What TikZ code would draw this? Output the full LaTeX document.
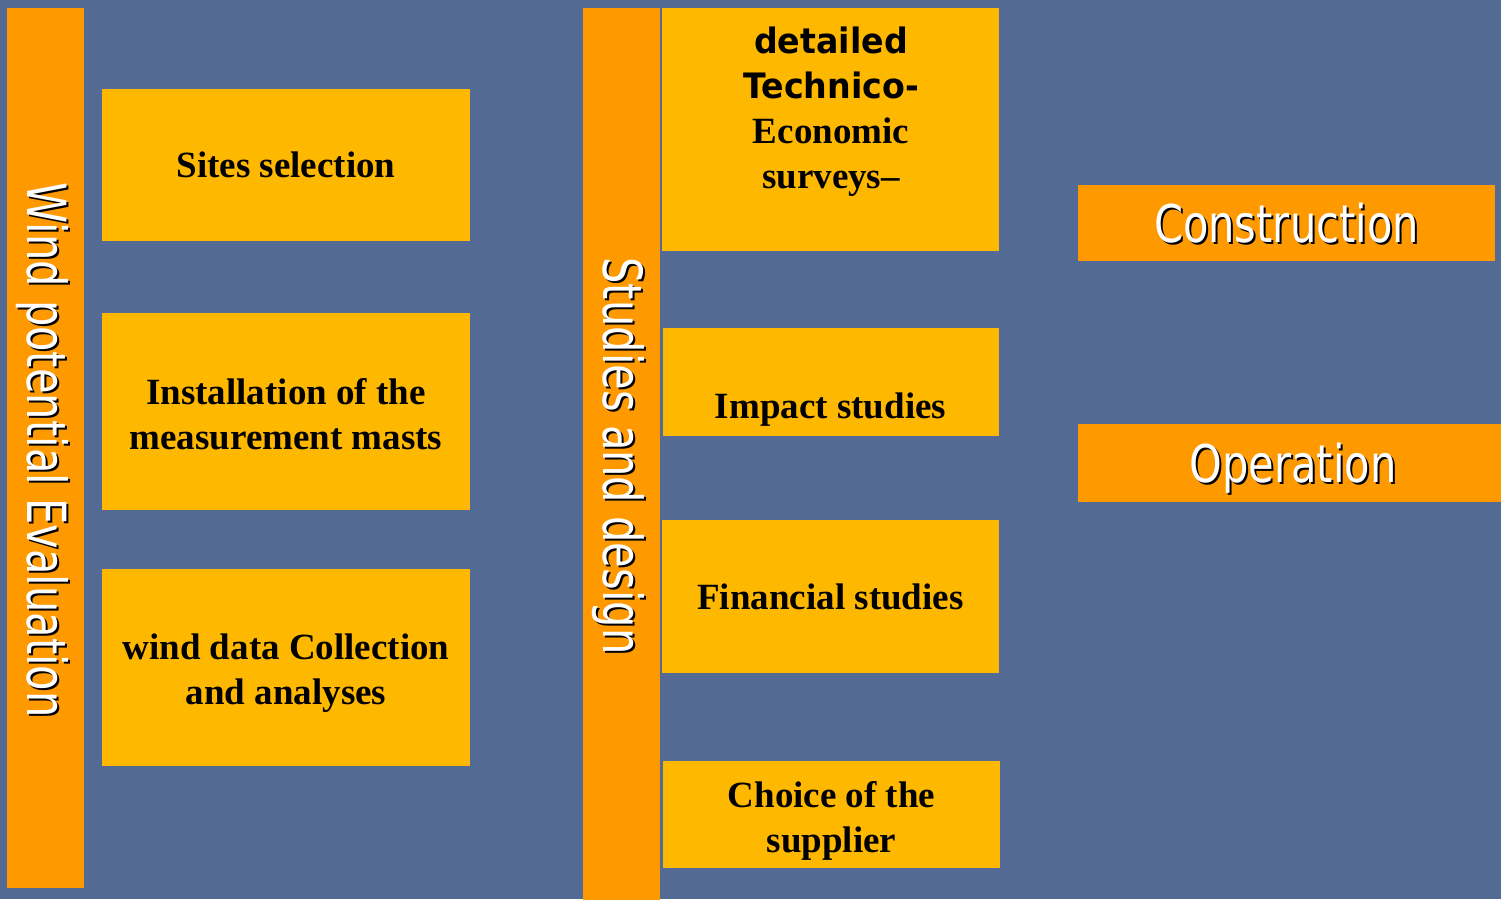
\documentclass[tikz,border=0pt]{standalone}
\usepackage{fontspec}
\setmainfont{Liberation Serif}
\newfontfamily\tahn[FakeStretch=0.77]{DejaVu Sans}
\newfontfamily\tahh[FakeStretch=0.80]{DejaVu Sans}
\newfontfamily\tahb[FakeStretch=0.95]{DejaVu Sans Bold}
\definecolor{bg}{RGB}{83,106,149}
\definecolor{barc}{RGB}{255,153,0}
\definecolor{boxc}{RGB}{255,184,0}
\newcommand\shd[3]{\leavevmode\rlap{\kern#1\raisebox{#2}{\color{black}#3}}{\color{white}#3}}
\tikzset{
  ybox/.style={fill=boxc, draw=none, inner sep=0pt},
  obar/.style={fill=barc, draw=none, inner sep=0pt},
  btxt/.style={font=\fontsize{37}{45}\selectfont\bfseries, align=center, text=black, inner sep=0pt},
  wtxt/.style={font=\tahh\fontsize{52}{60}\selectfont, text depth=0pt},
  vtxt/.style={font=\tahn\fontsize{54}{60}\selectfont}
}
\begin{document}
\begin{tikzpicture}[x=1pt,y=-1pt]
\useasboundingbox (0,0) rectangle (1501,899);
\fill[bg] (0,0) rectangle (1501,899);
% left column
\node[obar, rotate=-90, minimum width=880pt, minimum height=77pt] (wpe) at (45.5,448) {};
\node[vtxt, rotate=-90, inner sep=0pt] (wpet) at (43,450) {\shd{2pt}{2pt}{Wind potential Evaluation}};
\node[ybox, minimum width=368pt, minimum height=152pt] (sites) at (286,165) {};
\node[btxt] (sitest) at (sites.center) {Sites selection};
\node[ybox, minimum width=368pt, minimum height=197pt] (inst) at (286,411.5) {};
\node[btxt, anchor=north] (instt) at (286,378) {Installation of the\\measurement masts};
\node[ybox, minimum width=368pt, minimum height=197pt] (wdata) at (286,667.5) {};
\node[btxt, anchor=north] (wdatat) at (286,634) {wind data Collection\\and analyses};
% middle column
\node[obar, rotate=-90, minimum width=895pt, minimum height=77pt] (sad) at (621.5,455.5) {};
\node[vtxt, rotate=-90, inner sep=0pt] (sadt) at (619,456) {\shd{2pt}{2pt}{Studies and design}};
\node[ybox, minimum width=337pt, minimum height=243pt] (det) at (830.5,129.5) {};
\node[btxt, anchor=north] (dett) at (831,27) {{\tahb\fontsize{35}{45}\selectfont detailed}\\{\tahb\fontsize{35}{45}\selectfont Technico-}\\Economic\\surveys–};
\node[ybox, minimum width=336pt, minimum height=108pt] (imp) at (830.5,382) {};
\node[btxt, anchor=base] (impt) at (830.5,418) {Impact studies};
\node[ybox, minimum width=337pt, minimum height=153pt] (fin) at (830.5,596.5) {};
\node[btxt] (fint) at (fin.center) {Financial studies};
\node[ybox, minimum width=337pt, minimum height=107pt] (cho) at (831.5,814.5) {};
\node[btxt, anchor=north] (chot) at (831.5,781) {Choice of the\\supplier};
% right column
\node[obar, minimum width=417pt, minimum height=76pt] (cons) at (1286.5,223) {};
\node[wtxt, inner sep=0pt] (const) at (1286.5,223) {\shd{2pt}{-2pt}{Construction}};
\node[obar, minimum width=430pt, minimum height=78pt] (oper) at (1293,463) {};
\node[wtxt, inner sep=0pt] (opert) at (1293,463) {\shd{2pt}{-2pt}{Operation}};
\end{tikzpicture}
\end{document}
